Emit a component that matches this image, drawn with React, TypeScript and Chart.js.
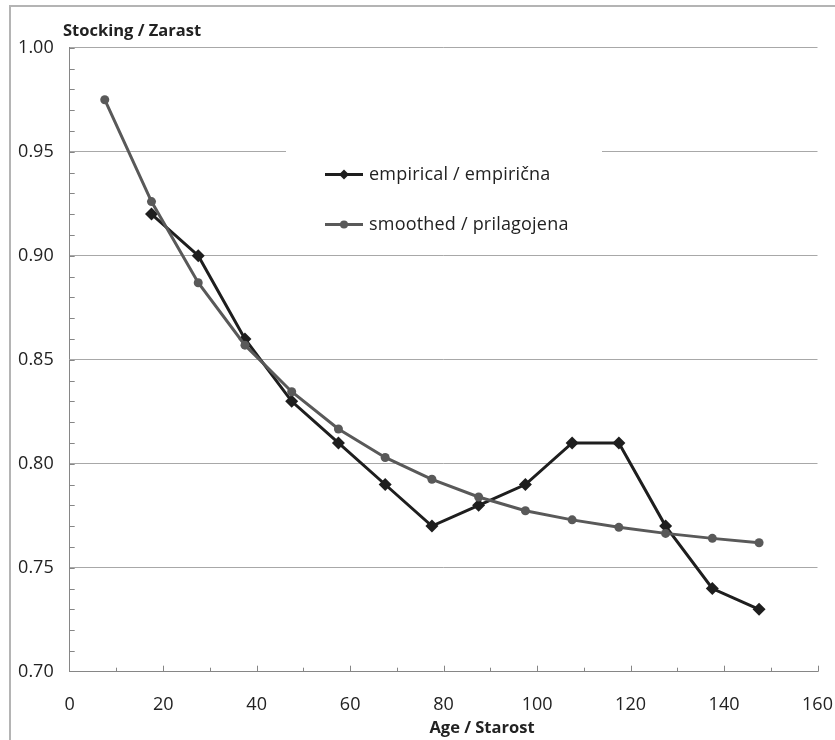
import React, { useEffect, useRef } from 'react';
import { Chart, registerables } from 'chart.js';

Chart.register(...registerables);

// ---- data ----
const AGES = [7.5, 17.5, 27.5, 37.5, 47.5, 57.5, 67.5, 77.5, 87.5, 97.5, 107.5, 117.5, 127.5, 137.5, 147.5];
const EMPIRICAL = [null, 0.92, 0.9, 0.86, 0.83, 0.81, 0.79, 0.77, 0.78, 0.79, 0.81, 0.81, 0.77, 0.74, 0.73];
const SMOOTHED = [0.975, 0.926, 0.887, 0.857, 0.8346, 0.8167, 0.803, 0.7925, 0.784, 0.7774, 0.773, 0.7694, 0.7665, 0.7641, 0.762];
const SERIES_LABELS = ['empirical / empirična', 'smoothed / prilagojena'];
const Y_TITLE = 'Stocking / Zarast';
const X_TITLE = 'Age / Starost';
const Y_MIN = 0.7;
const Y_MAX = 1.0;
const Y_STEP = 0.05;
const Y_MINOR = 0.01;
const X_MIN = 0;
const X_MAX = 160;
const X_STEP = 20;
const X_MINOR = 10;

// ---- styles ----
const FONT = '"Open Sans", "DejaVu Sans", sans-serif';
const EMP_COLOR = '#1e1e1e';
const SM_COLOR = '#595959';
const GRID_COLOR = '#a8a8a8';
const AXIS_COLOR = '#868686';
const TEXT_COLOR = '#222222';
const CLEAR = 'rgba(0,0,0,0)';

function drawDiamond(ctx: CanvasRenderingContext2D, x: number, y: number, r: number) {
  ctx.beginPath();
  ctx.moveTo(x - r, y);
  ctx.lineTo(x, y - r);
  ctx.lineTo(x + r, y);
  ctx.lineTo(x, y + r);
  ctx.closePath();
  ctx.fill();
}

function drawCircle(ctx: CanvasRenderingContext2D, x: number, y: number, r: number) {
  ctx.beginPath();
  ctx.arc(x, y, r, 0, Math.PI * 2);
  ctx.fill();
}

const decorPlugin = {
  id: 'decor',
  beforeDraw(chart: any) {
    const { ctx, width, height } = chart;
    ctx.save();
    ctx.fillStyle = '#ffffff';
    ctx.fillRect(0, 0, width, height);
    ctx.strokeStyle = '#b4b4b4';
    ctx.lineWidth = 2;
    ctx.strokeRect(10, 6, width + 50, height + 50);
    ctx.restore();
  },
  beforeDatasetsDraw(chart: any) {
    const { ctx, chartArea, scales } = chart;
    const xs = scales.x;
    const ys = scales.y;
    ctx.save();
    // legend background (hides part of the grid)
    ctx.fillStyle = '#ffffff';
    ctx.fillRect(286, 135, 316, 110);
    // tick marks drawn inside the plot
    ctx.strokeStyle = AXIS_COLOR;
    ctx.lineWidth = 1;
    ctx.beginPath();
    const ny = Math.round((Y_MAX - Y_MIN) / Y_MINOR);
    for (let i = 1; i <= ny; i++) {
      const py = Math.round(ys.getPixelForValue(Y_MIN + i * Y_MINOR)) + 0.5;
      ctx.moveTo(chartArea.left, py);
      ctx.lineTo(chartArea.left + 5, py);
    }
    const nx = Math.round((X_MAX - X_MIN) / X_MINOR);
    for (let i = 1; i <= nx; i++) {
      const v = X_MIN + i * X_MINOR;
      const px = Math.round(xs.getPixelForValue(v)) + 0.5;
      const len = v % X_STEP === 0 ? 6 : 4;
      ctx.moveTo(px, chartArea.bottom);
      ctx.lineTo(px, chartArea.bottom - len);
    }
    ctx.stroke();
    ctx.restore();
  },
  afterDraw(chart: any) {
    const { ctx } = chart;
    ctx.save();
    // legend
    const items = [
      { label: SERIES_LABELS[0], color: EMP_COLOR, shape: 'diamond', y: 174.5 },
      { label: SERIES_LABELS[1], color: SM_COLOR, shape: 'circle', y: 224.5 },
    ];
    for (const it of items) {
      ctx.strokeStyle = it.color;
      ctx.fillStyle = it.color;
      ctx.lineWidth = 3;
      ctx.beginPath();
      ctx.moveTo(325, it.y);
      ctx.lineTo(363, it.y);
      ctx.stroke();
      if (it.shape === 'diamond') drawDiamond(ctx, 344, it.y, 5);
      else drawCircle(ctx, 344, it.y, 4);
      ctx.fillStyle = TEXT_COLOR;
      ctx.font = `18px ${FONT}`;
      (ctx as any).letterSpacing = '0.2px';
      ctx.textAlign = 'left';
      ctx.textBaseline = 'middle';
      ctx.fillText(it.label, 369, it.y);
      (ctx as any).letterSpacing = '0px';
    }
    // axis titles
    ctx.fillStyle = TEXT_COLOR;
    ctx.font = `bold 16.5px ${FONT}`;
    ctx.textBaseline = 'alphabetic';
    ctx.textAlign = 'left';
    ctx.fillText(Y_TITLE, 63, 36);
    ctx.textAlign = 'center';
    ctx.fillText(X_TITLE, 482, 733);
    ctx.restore();
  },
};

export default function App() {
  const canvasRef = useRef<HTMLCanvasElement | null>(null);

  useEffect(() => {
    const canvas = canvasRef.current;
    if (!canvas) return;
    const empData = AGES.map((a, i) => ({ x: a, y: EMPIRICAL[i] })).filter((p) => p.y !== null);
    const smData = AGES.map((a, i) => ({ x: a, y: SMOOTHED[i] }));
    const chart = new Chart(canvas, {
      type: 'line',
      data: {
        datasets: [
          {
            label: SERIES_LABELS[1],
            data: smData as any,
            borderColor: SM_COLOR,
            backgroundColor: SM_COLOR,
            borderWidth: 3,
            pointStyle: 'circle',
            pointRadius: 4.5,
            pointBorderWidth: 0,
            tension: 0,
            order: 0,
          },
          {
            label: SERIES_LABELS[0],
            data: empData as any,
            borderColor: EMP_COLOR,
            backgroundColor: EMP_COLOR,
            borderWidth: 3,
            pointStyle: 'rectRot',
            pointRadius: 6.5,
            pointBorderWidth: 0,
            tension: 0,
            order: 1,
          },
        ],
      },
      options: {
        responsive: false,
        animation: false,
        devicePixelRatio: 1,
        layout: { padding: { left: 0, top: 47.7, right: 17.5, bottom: 0 } },
        plugins: {
          legend: { display: false },
          tooltip: { enabled: false },
          title: { display: false },
        },
        scales: {
          x: {
            type: 'linear',
            min: X_MIN,
            max: X_MAX,
            ticks: {
              stepSize: X_STEP,
              color: TEXT_COLOR,
              font: { family: FONT, size: 18 },
              padding: 0,
              maxRotation: 0,
            },
            grid: {
              display: true,
              drawOnChartArea: false,
              drawTicks: true,
              tickLength: 22,
              color: CLEAR,
              tickColor: CLEAR,
            },
            border: { display: true, color: AXIS_COLOR, width: 1 },
            afterFit: (s: any) => {
              s.height = 68.3;
            },
          },
          y: {
            type: 'linear',
            min: Y_MIN,
            max: Y_MAX,
            ticks: {
              stepSize: Y_STEP,
              color: TEXT_COLOR,
              font: { family: FONT, size: 18 },
              padding: 16,
              callback: (v: any) => Number(v).toFixed(2),
            },
            grid: {
              display: true,
              drawTicks: false,
              color: (c: any) => (c.tick && Math.abs(c.tick.value - Y_MIN) < 1e-9 ? CLEAR : GRID_COLOR),
              lineWidth: 1,
            },
            border: { display: true, color: AXIS_COLOR, width: 1 },
            afterFit: (s: any) => {
              s.width = 69.7;
            },
          },
        },
      },
      plugins: [decorPlugin],
    });
    return () => chart.destroy();
  }, []);

  return (
    <div style={{ position: 'absolute', left: 0, top: 0, width: 835, height: 740 }}>
      <canvas ref={canvasRef} width={835} height={740} style={{ display: 'block' }} />
    </div>
  );
}
